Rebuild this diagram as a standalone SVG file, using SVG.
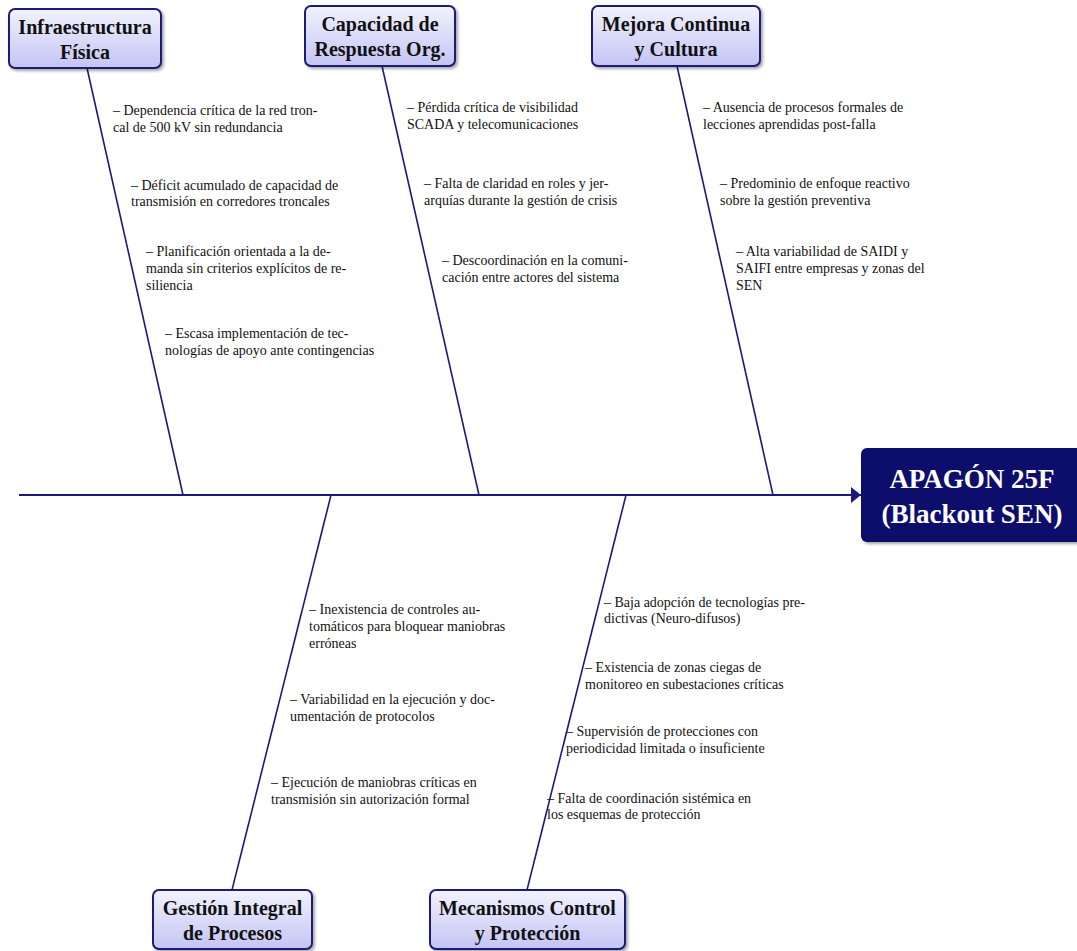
<svg xmlns="http://www.w3.org/2000/svg" width="1077" height="951" viewBox="0 0 1077 951">
<style>
.cat rect{fill:url(#catg);stroke:#1c1c78;stroke-width:2;filter:url(#sh)}
.cat text{font-family:"Liberation Serif","Times New Roman",serif;font-weight:bold;font-size:20px;fill:#111;text-anchor:middle}
.lbl{font-family:"Liberation Serif","Times New Roman",serif;font-size:14px;fill:#111}
.bone{stroke:#1a1a7e;stroke-width:1.6;fill:none}
.spine{stroke:#1a1a7e;stroke-width:2.2;fill:none}
</style>
<defs>
<linearGradient id="catg" x1="0" y1="0" x2="0" y2="1">
<stop offset="0" stop-color="#f2f2ff"/>
<stop offset="1" stop-color="#c4c4f4"/>
</linearGradient>
<filter id="sh" x="-10%" y="-10%" width="130%" height="140%">
<feGaussianBlur in="SourceAlpha" stdDeviation="1.5"/>
<feOffset dx="2" dy="2" result="o"/>
<feComponentTransfer><feFuncA type="linear" slope="0.35"/></feComponentTransfer>
<feMerge><feMergeNode/><feMergeNode in="SourceGraphic"/></feMerge>
</filter>
<marker id="arr" viewBox="0 0 10 16" refX="10" refY="8" markerWidth="10" markerHeight="16" markerUnits="userSpaceOnUse" orient="auto">
<path d="M0,0 L10,8 L0,16 Z" fill="#1a1a7e"/>
</marker>
</defs>
<rect width="1077" height="951" fill="#fff"/>

<g id="connectors">
<line class="spine" x1="19" y1="495" x2="861" y2="495" marker-end="url(#arr)"/>
<line class="bone" x1="87" y1="68" x2="183" y2="495"/>
<line class="bone" x1="382" y1="66" x2="479" y2="495"/>
<line class="bone" x1="677" y1="66" x2="773" y2="495"/>
<line class="bone" x1="331" y1="495" x2="232" y2="890"/>
<line class="bone" x1="626" y1="495" x2="527" y2="890"/>
</g>

<g id="effect">
<rect x="861" y="448" width="224" height="94" rx="6" fill="#0b0b6c" filter="url(#sh)"/>
<text x="972" y="488" font-family="'Liberation Serif','Times New Roman',serif" font-weight="bold" font-size="27" fill="#fff" text-anchor="middle">APAGÓN 25F</text>
<text x="972" y="523" font-family="'Liberation Serif','Times New Roman',serif" font-weight="bold" font-size="27" fill="#fff" text-anchor="middle">(Blackout SEN)</text>
</g>

<g id="cat-infraestructura" class="cat">
<rect x="9" y="9" width="152" height="59" rx="6"/>
<text x="85" y="34">Infraestructura</text>
<text x="85" y="59">Física</text>
</g>
<g id="cat-capacidad" class="cat">
<rect x="305" y="6" width="150" height="60" rx="6"/>
<text x="380" y="31">Capacidad de</text>
<text x="380" y="56">Respuesta Org.</text>
</g>
<g id="cat-mejora" class="cat">
<rect x="592" y="6" width="168" height="60" rx="6"/>
<text x="676" y="31">Mejora Continua</text>
<text x="676" y="56">y Cultura</text>
</g>
<g id="cat-gestion" class="cat">
<rect x="153" y="890" width="159" height="59" rx="6"/>
<text x="232.5" y="915">Gestión Integral</text>
<text x="232.5" y="940">de Procesos</text>
</g>
<g id="cat-mecanismos" class="cat">
<rect x="430" y="890" width="195" height="59" rx="6"/>
<text x="527.5" y="915">Mecanismos Control</text>
<text x="527.5" y="940">y Protección</text>
</g>

<g id="causes-infraestructura" class="lbl">
<text x="113" y="115">– Dependencia crítica de la red tron-<tspan x="113" y="132">cal de 500 kV sin redundancia</tspan></text>
<text x="131" y="190">– Déficit acumulado de capacidad de<tspan x="131" y="206">transmisión en corredores troncales</tspan></text>
<text x="146" y="256">– Planificación orientada a la de-<tspan x="146" y="273">manda sin criterios explícitos de re-</tspan><tspan x="146" y="290">siliencia</tspan></text>
<text x="165" y="338">– Escasa implementación de tec-<tspan x="165" y="355">nologías de apoyo ante contingencias</tspan></text>
</g>
<g id="causes-capacidad" class="lbl">
<text x="407" y="112">– Pérdida crítica de visibilidad<tspan x="407" y="129">SCADA y telecomunicaciones</tspan></text>
<text x="424" y="188">– Falta de claridad en roles y jer-<tspan x="424" y="205">arquías durante la gestión de crisis</tspan></text>
<text x="442" y="265">– Descoordinación en la comuni-<tspan x="442" y="282">cación entre actores del sistema</tspan></text>
</g>
<g id="causes-mejora" class="lbl">
<text x="703" y="112">– Ausencia de procesos formales de<tspan x="703" y="129">lecciones aprendidas post-falla</tspan></text>
<text x="720" y="188">– Predominio de enfoque reactivo<tspan x="720" y="205">sobre la gestión preventiva</tspan></text>
<text x="736" y="256">– Alta variabilidad de SAIDI y<tspan x="736" y="273">SAIFI entre empresas y zonas del</tspan><tspan x="736" y="290">SEN</tspan></text>
</g>
<g id="causes-gestion" class="lbl">
<text x="309" y="614">– Inexistencia de controles au-<tspan x="309" y="631">tomáticos para bloquear maniobras</tspan><tspan x="309" y="648">erróneas</tspan></text>
<text x="290" y="704">– Variabilidad en la ejecución y doc-<tspan x="290" y="721">umentación de protocolos</tspan></text>
<text x="271" y="787">– Ejecución de maniobras críticas en<tspan x="271" y="804">transmisión sin autorización formal</tspan></text>
</g>
<g id="causes-mecanismos" class="lbl">
<text x="604" y="607">– Baja adopción de tecnologías pre-<tspan x="604" y="623">dictivas (Neuro-difusos)</tspan></text>
<text x="585" y="672">– Existencia de zonas ciegas de<tspan x="585" y="689">monitoreo en subestaciones críticas</tspan></text>
<text x="566" y="736">– Supervisión de protecciones con<tspan x="566" y="753">periodicidad limitada o insuficiente</tspan></text>
<text x="547" y="803">– Falta de coordinación sistémica en<tspan x="547" y="819">los esquemas de protección</tspan></text>
</g>
</svg>
